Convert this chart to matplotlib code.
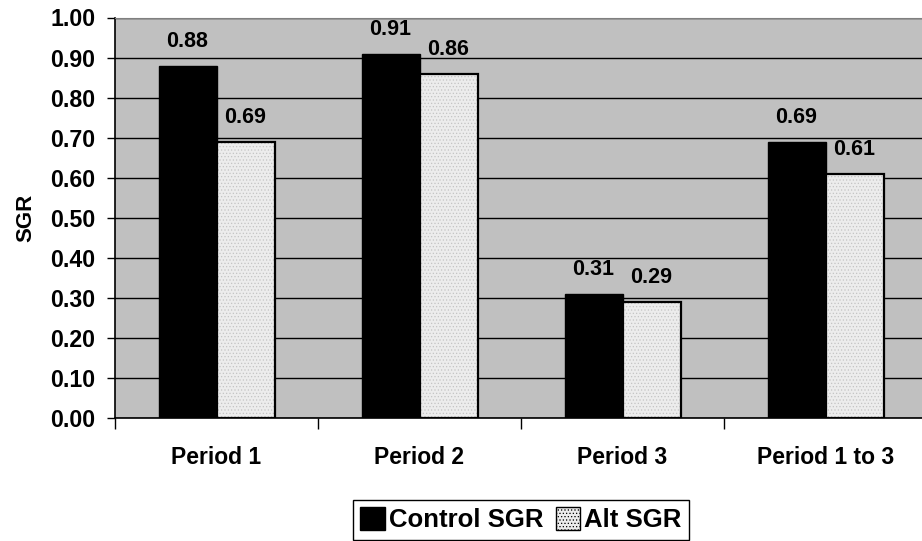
import matplotlib.pyplot as plt
from matplotlib.patches import Patch
import numpy as np

plt.rcParams['font.family'] = ['Liberation Sans', 'DejaVu Sans']
plt.rcParams['font.weight'] = 'bold'
plt.rcParams['hatch.linewidth'] = 0.5

categories = ['Period 1', 'Period 2', 'Period 3', 'Period 1 to 3']
control_sgr = [0.88, 0.91, 0.31, 0.69]
alt_sgr = [0.69, 0.86, 0.29, 0.61]
yticks = [0.0, 0.1, 0.2, 0.3, 0.4, 0.5, 0.6, 0.7, 0.8, 0.9, 1.0]

fig = plt.figure(figsize=(9.22, 5.41), dpi=100)
ax = fig.add_axes([115 / 922, 1 - 418 / 541, 812 / 922, 400.5 / 541])
ax.set_facecolor('#c0c0c0')

x = np.arange(len(categories))
w = 1 / 3.5

ax.bar(x - w / 2, control_sgr, w, color='black', edgecolor='black', linewidth=1, zorder=3)
# alt bars: light fill with fine dots, then a black outline
ax.bar(x + w / 2, alt_sgr, w, color='#ececec', edgecolor='#c4c4c4', hatch='.....',
       linewidth=0, zorder=3)
ax.bar(x + w / 2, alt_sgr, w, color='none', edgecolor='black', linewidth=1.6, zorder=4)

for xi, v in zip(x - w / 2, control_sgr):
    ax.annotate(f'{v:.2f}', (xi, v), xytext=(0, 10), textcoords='offset points',
                ha='center', va='bottom', fontsize=15.5, fontweight='bold')
for xi, v in zip(x + w / 2, alt_sgr):
    ax.annotate(f'{v:.2f}', (xi, v), xytext=(0, 10), textcoords='offset points',
                ha='center', va='bottom', fontsize=15.5, fontweight='bold')

ax.set_xlim(-0.5, len(categories) - 0.5)
ax.set_ylim(0, 1.0)
ax.set_yticks(yticks)
ax.set_yticklabels([f'{t:.2f}' for t in yticks])
ax.yaxis.grid(True, color='black', linewidth=1)
ax.set_axisbelow(True)

ax.set_xticks(x)
ax.set_xticklabels(categories)
ax.set_xticks(np.arange(len(categories) + 1) - 0.5, minor=True)
ax.tick_params(axis='x', which='major', length=0, pad=20, labelsize=16.5)
ax.tick_params(axis='x', which='minor', length=8, width=1, direction='out')
ax.tick_params(axis='y', length=6, width=1, pad=8, labelsize=16.7)

for s in ['left', 'bottom']:
    ax.spines[s].set_color('black')
    ax.spines[s].set_linewidth(1.2)
ax.spines['top'].set_color('#808080')
ax.spines['right'].set_color('#808080')

ax.set_ylabel('SGR', fontsize=16, fontweight='bold', labelpad=10)

handles = [Patch(facecolor='black', edgecolor='black'),
           Patch(facecolor='#ececec', edgecolor='black', hatch='.....')]
leg = fig.legend(handles, ['Control SGR', 'Alt SGR'], loc='lower center',
                 bbox_to_anchor=(521 / 922, 1 / 541), ncol=2,
                 prop={'weight': 'bold', 'size': 18.5}, handlelength=0.95,
                 handleheight=0.95, handletextpad=0.15, columnspacing=0.5,
                 borderpad=0.3, fancybox=False, framealpha=1, edgecolor='black',
                 borderaxespad=0)
leg.get_frame().set_linewidth(1)

fig.savefig('out.png', dpi=100)
